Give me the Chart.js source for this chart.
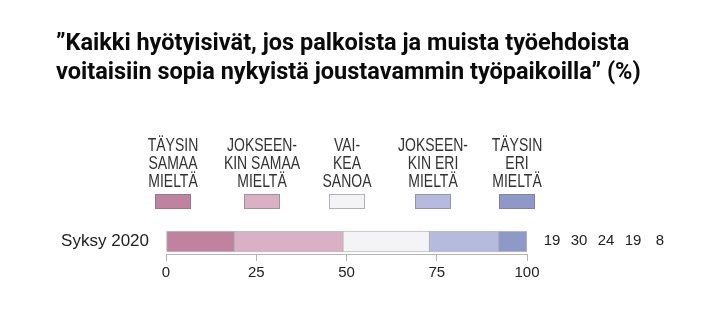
<!DOCTYPE html>
<html>
<head>
<meta charset="utf-8">
<script src="https://cdn.jsdelivr.net/npm/chart.js@4.4.1/dist/chart.umd.min.js"></script>
<style>
  html, body { margin: 0; padding: 0; background: #fff; }
  #wrap { width: 720px; height: 326px; }
</style>
</head>
<body>
<div id="wrap"><canvas id="chart"></canvas></div>
<script>
// data
const categories = ['Syksy 2020'];
const seriesNames = ['Täysin samaa mieltä', 'Jokseenkin samaa mieltä', 'Vaikea sanoa', 'Jokseenkin eri mieltä', 'Täysin eri mieltä'];
const legendLines = [
  ['TÄYSIN', 'SAMAA', 'MIELTÄ'],
  ['JOKSEEN-', 'KIN SAMAA', 'MIELTÄ'],
  ['VAI-', 'KEA', 'SANOA'],
  ['JOKSEEN-', 'KIN ERI', 'MIELTÄ'],
  ['TÄYSIN', 'ERI', 'MIELTÄ'],
];
const values = [19, 30, 24, 19, 8];
const xTicks = [0, 25, 50, 75, 100];
const titleLines = [
  '”Kaikki hyötyisivät, jos palkoista ja muista työehdoista',
  'voitaisiin sopia nykyistä joustavammin työpaikoilla” (%)',
];

const colors = ['#c0839f', '#d9b0c4', '#f4f4f6', '#b5bade', '#8e98c9'];
const sans = '"Liberation Sans", Arial, sans-serif';

// legend above the bar: squeezed caps text over a small box
const legendPlugin = {
  id: 'legendAbove',
  afterDraw(chart) {
    const ctx = chart.ctx;
    const area = chart.chartArea;
    const offsets = [7, 96, 181, 267, 351]; // centre of each item from the plot's left edge
    ctx.save();
    legendLines.forEach((lines, i) => {
      const cx = area.left + offsets[i];
      ctx.save();
      ctx.translate(cx, 0);
      ctx.scale(0.8, 1);
      ctx.font = '17.5px ' + sans;
      ctx.fillStyle = '#333';
      ctx.textAlign = 'center';
      ctx.textBaseline = 'middle';
      lines.forEach((t, j) => ctx.fillText(t, 0, 146 + j * 18.3));
      ctx.restore();
      ctx.fillStyle = colors[i];
      ctx.fillRect(cx - 18, 194, 36, 15);
      ctx.strokeStyle = 'rgba(110,110,120,0.5)';
      ctx.lineWidth = 1;
      ctx.strokeRect(cx - 17.5, 194.5, 35, 14);
    });
    ctx.restore();
  }
};

// numbers to the right of the bar
const valuesPlugin = {
  id: 'valuesRight',
  afterDraw(chart) {
    const ctx = chart.ctx;
    const area = chart.chartArea;
    const y = chart.getDatasetMeta(0).data[0].y;
    ctx.save();
    ctx.font = '15px ' + sans;
    ctx.fillStyle = '#222';
    ctx.textAlign = 'center';
    ctx.textBaseline = 'middle';
    values.forEach((v, i) => ctx.fillText(String(v), area.right + 25 + i * 27, y - 1));
    ctx.restore();
  }
};

const ctx = document.getElementById('chart').getContext('2d');
new Chart(ctx, {
  type: 'bar',
  data: {
    labels: categories,
    datasets: seriesNames.map((name, i) => ({
      label: name,
      data: [values[i]],
      backgroundColor: colors[i],
      borderColor: 'rgba(110,110,120,0.45)',
      borderWidth: 1,
      borderSkipped: false,
      barThickness: 21,
    })),
  },
  options: {
    indexAxis: 'y',
    responsive: true,
    maintainAspectRatio: false,
    animation: false,
    layout: { padding: { left: 56, right: 0, top: 0, bottom: 0 } },
    plugins: {
      legend: { display: false },
      tooltip: { enabled: false },
      title: {
        display: true,
        text: titleLines,
        align: 'start',
        color: '#0a0a0a',
        font: { family: 'Roboto, ' + sans, size: 23.5, weight: 'bold', lineHeight: '29px' },
        padding: { top: 30, bottom: 141 },
      },
    },
    scales: {
      x: {
        stacked: true,
        min: 0,
        max: 100,
        afterBuildTicks: (s) => { s.ticks = xTicks.map(v => ({ value: v })); },
        afterFit: (s) => { s.height = 72; },
        grid: { drawOnChartArea: false, tickLength: 7, color: '#b5b5b5' },
        border: { color: '#b5b5b5' },
        ticks: { color: '#222', padding: 3, font: { family: sans, size: 15 } },
      },
      y: {
        stacked: true,
        afterFit: (s) => { s.width = 110; },
        grid: { display: false },
        border: { display: false },
        ticks: { color: '#222', padding: 9, font: { family: sans, size: 17 } },
      },
      // empty strip on the right that holds the value numbers
      yRight: {
        type: 'category',
        axis: 'y',
        position: 'right',
        labels: categories,
        afterFit: (s) => { s.width = 193; },
        grid: { display: false },
        border: { display: false },
        ticks: { display: false },
      },
    },
  },
  plugins: [legendPlugin, valuesPlugin],
});
</script>
</body>
</html>
